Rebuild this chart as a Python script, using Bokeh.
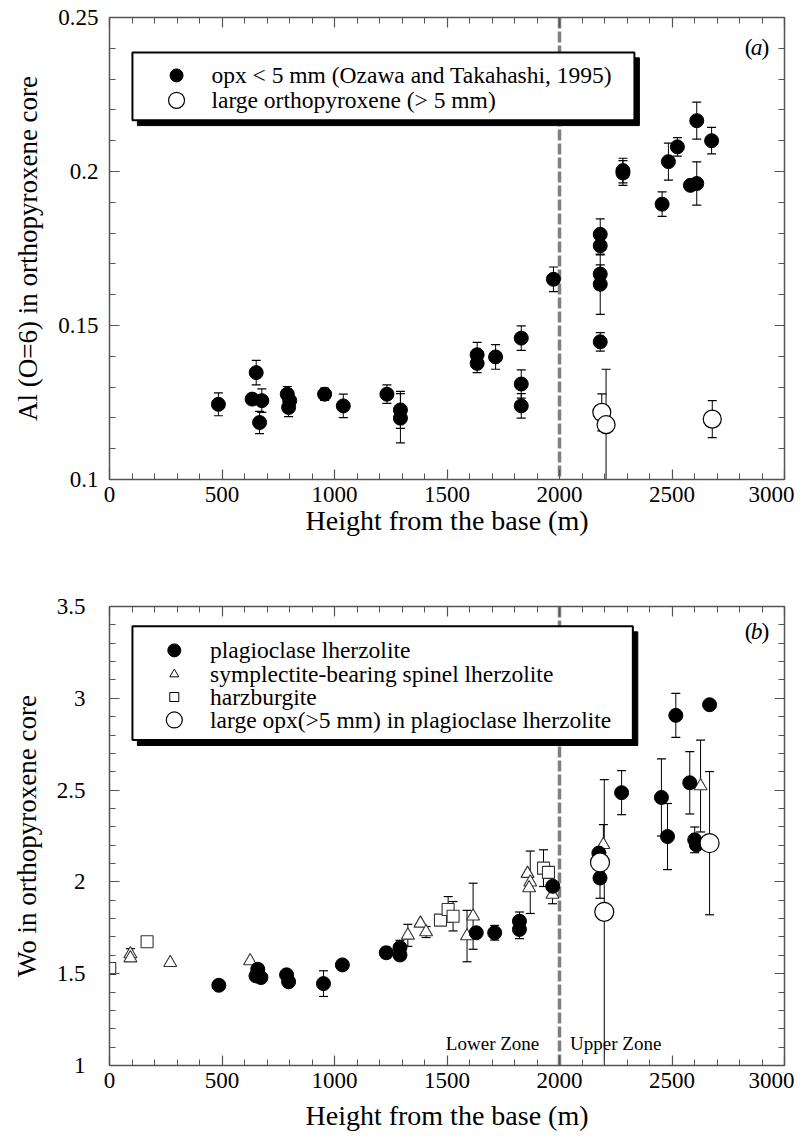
from bokeh.plotting import figure
from bokeh.models import (LinearAxis, SingleIntervalTicker, Span, CustomJSTickFormatter, Range1d)
from bokeh.layouts import column
from bokeh.embed import file_html
from bokeh.resources import INLINE
from bokeh.core.properties import value

SERIF = "Liberation Serif"
AX = "#555555"

# ---------------- Panel (a): Al (O=6) ----------------
a_small_x = [484, 634, 652, 677, 667, 790, 801, 796, 956, 1039, 1233, 1293, 1293,
             1634, 1634, 1716, 1830, 1830, 1830, 1973,
             2181, 2181, 2181, 2181, 2181, 2282, 2282, 2456, 2484, 2524, 2582, 2610, 2610, 2676]
a_small_y = [0.1244, 0.1261, 0.1347, 0.1256, 0.1185, 0.1277, 0.1256, 0.1234, 0.1277, 0.1239, 0.1277, 0.1226, 0.1199,
             0.1405, 0.1377, 0.1398, 0.1459, 0.1310, 0.1239, 0.1650,
             0.1796, 0.1759, 0.1667, 0.1634, 0.1447, 0.2003, 0.1995, 0.1894, 0.2032, 0.2080, 0.1955, 0.1961, 0.2165, 0.2100]
a_small_err = [0.0037, 0, 0.004, 0.0038, 0.0036, 0.0025, 0, 0.003, 0.002, 0.0038, 0.003, 0.006, 0.008,
               0.004, 0.003, 0.004, 0.004, 0.0046, 0.004, 0.004,
               0.005, 0.003, 0.003, 0.0098, 0.003, 0.004, 0.004, 0.004, 0.006, 0.003, 0, 0.007, 0.006, 0.0043]
a_large_x = [2188, 2207, 2679]
a_large_y = [0.1218, 0.1178, 0.1196]
a_large_err = [0.006, 0.018, 0.006]
a_legend = ["opx < 5 mm (Ozawa and Takahashi, 1995)", "large orthopyroxene (> 5 mm)"]

# ---------------- Panel (b): Wo ----------------
b_plag_x = [486, 659, 651, 673, 787, 796, 951, 1035, 1230, 1291, 1291, 1630, 1712, 1822, 1822, 1970,
            2175, 2180, 2276, 2453, 2480, 2517, 2579, 2601, 2608, 2667]
b_plag_y = [1.437, 1.524, 1.488, 1.479, 1.494, 1.456, 1.446, 1.548, 1.614, 1.642, 1.602, 1.723, 1.723, 1.786, 1.741, 1.976,
            2.157, 2.021, 2.486, 2.46, 2.247, 2.907, 2.54, 2.229, 2.202, 2.965]
b_plag_err = [0, 0.03, 0, 0, 0, 0, 0.07, 0.025, 0.03, 0.04, 0, 0, 0.04, 0.05, 0.05, 0,
              0, 0.11, 0.12, 0.21, 0.18, 0.12, 0.17, 0.07, 0, 0]
b_symp_x = [93, 93, 270, 625, 1326, 1382, 1407, 1589, 1616, 1858, 1870, 1865, 1969, 2195, 2627]
b_symp_y = [1.607, 1.585, 1.56, 1.569, 1.709, 1.774, 1.727, 1.705, 1.813, 2.045, 1.998, 1.967, 1.931, 2.202, 2.522]
b_symp_err = [0.03, 0, 0, 0, 0.06, 0, 0.03, 0.14, 0.18, 0, 0.17, 0, 0.05, 0.11, 0.25]
b_harz_x = [1, 167, 1471, 1505, 1527, 1929, 1951]
b_harz_y = [1.528, 1.674, 1.792, 1.85, 1.813, 2.075, 2.052]
b_harz_err = [0, 0.028, 0, 0.07, 0.08, 0.1, 0]
b_large_x = [2180, 2199, 2667]
b_large_y = [2.106, 1.837, 2.211]
b_large_err_lo = [0, 0.9, 0.39]
b_large_err_hi = [0, 0.72, 0.39]
b_legend = ["plagioclase lherzolite", "symplectite-bearing spinel lherzolite", "harzburgite",
            "large opx(>5 mm) in plagioclase lherzolite"]
zone_labels = ["Lower Zone", "Upper Zone"]
boundary = 2000


def base_fig(width, height, y0, y1, ytick, left, top, bottom, ylabel, lab_standoff, xstand, xtitle_stand):
    p = figure(width=width, height=height, x_range=Range1d(0, 3000), y_range=Range1d(y0, y1),
               output_backend="svg", toolbar_location=None,
               min_border_left=left, min_border_right=10, min_border_top=top, min_border_bottom=bottom)
    p.grid.visible = False
    p.outline_line_color = None
    p.background_fill_color = "white"
    p.border_fill_color = "white"
    fmt = CustomJSTickFormatter(code="return String(parseFloat(tick.toFixed(3)));")
    p.xaxis.ticker = SingleIntervalTicker(interval=500, num_minor_ticks=5)
    p.yaxis.ticker = SingleIntervalTicker(interval=ytick, num_minor_ticks=5)
    p.yaxis.formatter = fmt
    p.xaxis.axis_label = "Height from the base (m)"
    p.yaxis.axis_label = ylabel
    for ax in [p.xaxis[0], p.yaxis[0]]:
        ax.axis_label_text_font = SERIF
        ax.axis_label_text_font_style = "normal"
        ax.axis_label_text_color = "black"
        ax.major_label_text_font = SERIF
        ax.major_label_text_font_size = "23px"
        ax.major_label_text_color = "black"
    p.xaxis.axis_label_text_font_size = "28px"
    p.yaxis.axis_label_text_font_size = "27px"
    p.xaxis.major_label_standoff = xstand
    p.xaxis.axis_label_standoff = xtitle_stand
    p.yaxis.major_label_standoff = lab_standoff
    p.yaxis.axis_label_standoff = 12
    blank = CustomJSTickFormatter(code="return '';")
    p.add_layout(LinearAxis(ticker=SingleIntervalTicker(interval=500, num_minor_ticks=5),
                            formatter=blank), "above")
    p.add_layout(LinearAxis(ticker=SingleIntervalTicker(interval=ytick, num_minor_ticks=5),
                            formatter=blank), "right")
    for ax in p.axis:
        ax.axis_line_color = AX
        ax.axis_line_width = 1.5
        ax.major_tick_line_color = AX
        ax.minor_tick_line_color = AX
        ax.major_tick_line_width = 1.2
        ax.minor_tick_line_width = 1.0
        ax.major_tick_in = 10
        ax.major_tick_out = 0
        ax.minor_tick_in = 6
        ax.minor_tick_out = 0
    for ax in p.above + p.right:
        ax.major_label_text_font_size = "1px"
        ax.major_label_standoff = 0
    p.add_layout(Span(location=boundary, dimension="height", line_color="#808080",
                      line_width=3.5, line_dash="11 3", level="underlay"))
    return p


def errbars(p, xs, ys, lo, hi):
    X, Y0, Y1 = [], [], []
    for x, y, l, h in zip(xs, ys, lo, hi):
        if l > 0 or h > 0:
            X.append(x); Y0.append(y - l); Y1.append(y + h)
    p.segment(X, Y0, X, Y1, line_color="black", line_width=1)
    p.scatter(X + X, Y0 + Y1, marker="dash", size=9, line_color="black", line_width=1.2)


def legend_box(p, x0, x1, y0, y1, dx, dy):
    p.quad(left=[x0 + dx], right=[x1 + dx], top=[y1 - dy], bottom=[y0 - dy],
           fill_color="black", line_color="black")
    p.quad(left=[x0], right=[x1], top=[y1], bottom=[y0],
           fill_color="white", line_color="black", line_width=2)


def label(p, x, y, t, size="23.5px", align="left", style="normal", xo=0):
    p.text(x=[x], y=[y], text=[t], text_font=value(SERIF), text_font_size=size,
           text_align=align, text_baseline="middle", text_font_style=style,
           text_color="black", x_offset=xo)


# ---------------- figure (a) ----------------
pa = base_fig(794, 553, 0.1, 0.25, 0.05, 109, 17, 74, "Al (O=6) in orthopyroxene core", 11, 7, 0)
errbars(pa, a_small_x, a_small_y, a_small_err, a_small_err)
errbars(pa, a_large_x, a_large_y, a_large_err, a_large_err)
pa.scatter(a_small_x, a_small_y, marker="circle", size=14, fill_color="black", line_color="black")
pa.scatter(a_large_x, a_large_y, marker="circle", size=18, fill_color="white", line_color="black", line_width=1.2)
legend_box(pa, 102, 2333, 0.2166, 0.2386, 22, 0.0017)
pa.scatter([298], [0.2312], marker="circle", size=13, fill_color="black", line_color="black")
pa.scatter([298], [0.2231], marker="circle", size=16, fill_color="white", line_color="black", line_width=1.2)
label(pa, 453, 0.2312, a_legend[0])
label(pa, 453, 0.2231, a_legend[1])
label(pa, 2876, 0.2403, "(", align="right", xo=-4)
label(pa, 2876, 0.2403, "a", align="center", style="italic")
label(pa, 2876, 0.2403, ")", align="left", xo=5)

# ---------------- figure (b) ----------------
pb = base_fig(794, 580, 1.0, 3.5, 0.5, 107, 53, 66, "Wo in orthopyroxene core", 24, 7, 9)
errbars(pb, b_plag_x, b_plag_y, b_plag_err, b_plag_err)
errbars(pb, b_symp_x, b_symp_y, b_symp_err, b_symp_err)
errbars(pb, b_harz_x, b_harz_y, b_harz_err, b_harz_err)
errbars(pb, b_large_x, b_large_y, b_large_err_lo, b_large_err_hi)
pb.scatter(b_harz_x, b_harz_y, marker="square", size=12, fill_color="white", line_color="#333333", line_width=1.1)
pb.scatter(b_symp_x, b_symp_y, marker="triangle", size=13, fill_color="white", line_color="#333333", line_width=1.1)
pb.scatter(b_plag_x, b_plag_y, marker="circle", size=14, fill_color="black", line_color="black")
pb.scatter(b_large_x, b_large_y, marker="circle", size=19, fill_color="white", line_color="black", line_width=1.2)
legend_box(pb, 102, 2326, 2.773, 3.392, 22, 0.03)
ly = [3.261, 3.131, 3.007, 2.882]
pb.scatter([288], [ly[0]], marker="circle", size=13, fill_color="black", line_color="black")
pb.scatter([288], [ly[1]], marker="triangle", size=9, fill_color="white", line_color="black")
pb.scatter([288], [ly[2]], marker="square", size=9, fill_color="white", line_color="black")
pb.scatter([288], [ly[3]], marker="circle", size=16, fill_color="white", line_color="black", line_width=1.2)
for yy, t in zip(ly, b_legend):
    label(pb, 447, yy, t)
label(pb, 1910, 1.119, zone_labels[0], size="19px", align="right")
label(pb, 2047, 1.119, zone_labels[1], size="19px", align="left")
label(pb, 2876, 3.365, "(", align="right", xo=-4)
label(pb, 2876, 3.365, "b", align="center", style="italic")
label(pb, 2876, 3.365, ")", align="left", xo=5)

layout = column(pa, pb, spacing=0)
open("out.html", "w").write(file_html(layout, INLINE))
